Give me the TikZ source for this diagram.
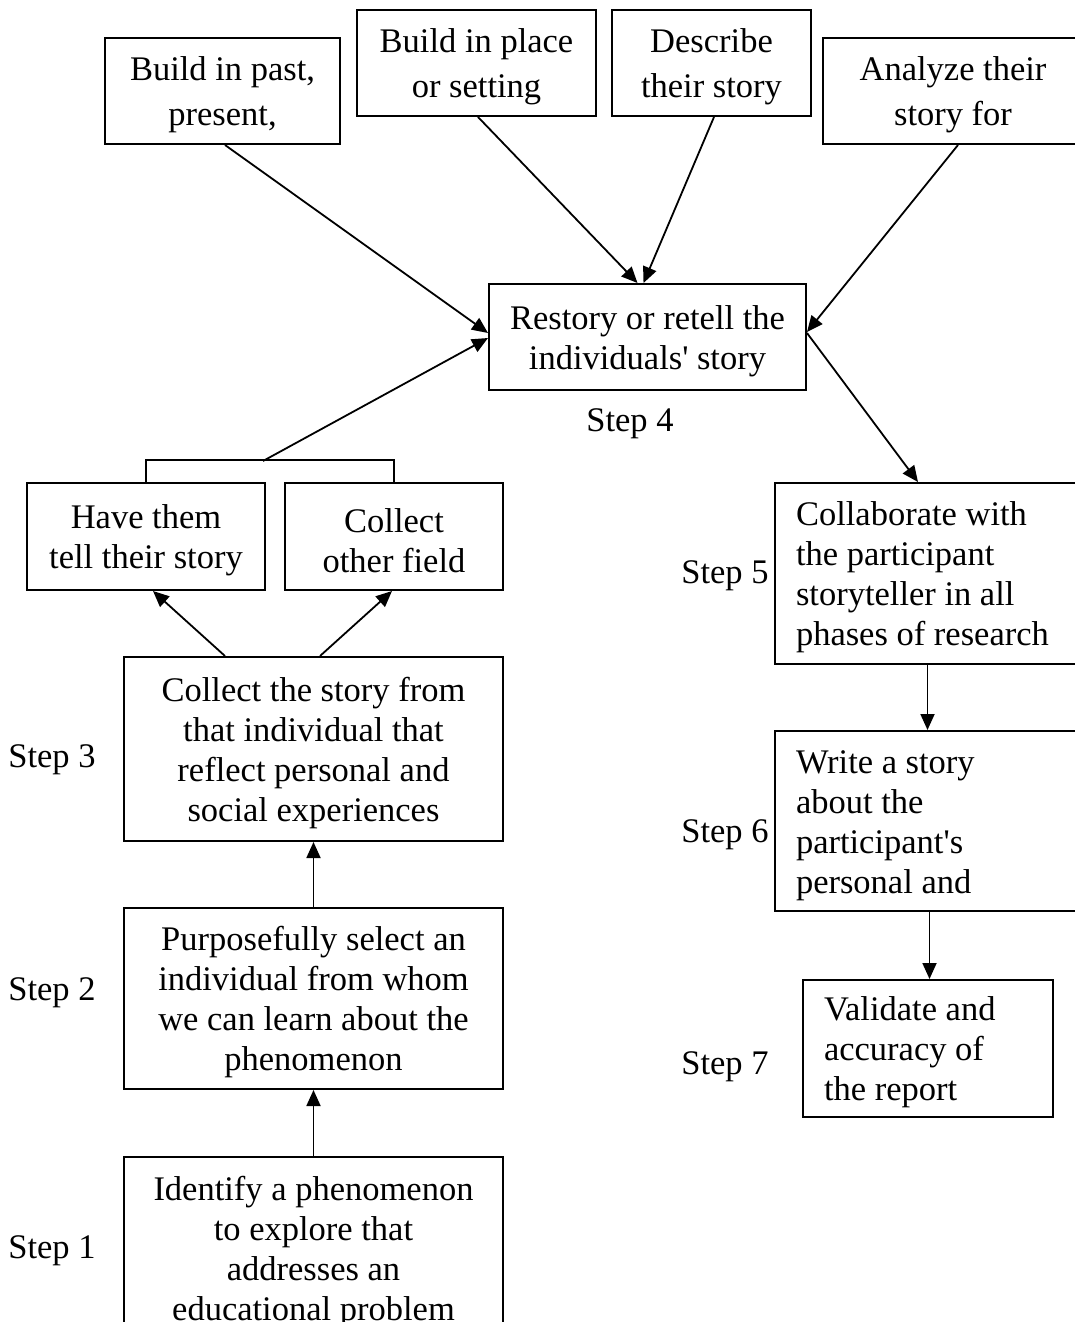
\documentclass[tikz,border=0pt]{standalone}
\usepackage{fontspec}
\setmainfont{Liberation Serif}
\usetikzlibrary{arrows.meta}
\newcommand{\tallstrut}{\rule{0pt}{32pt}}
\tikzset{
  txt/.style={font=\fontsize{34.5pt}{40pt}\selectfont},
  wide/.style={font=\fontsize{34.5pt}{45pt}\selectfont},
  box/.style={txt, draw, line width=2pt, inner sep=0pt, align=center},
  lbox/.style={txt, draw, line width=2pt, inner xsep=21pt, inner ysep=0pt, align=flush left},
  lbl/.style={txt, inner sep=0pt},
  arr/.style={line width=1.8pt, -{Triangle[length=16pt,width=14pt]}},
  link/.style={line width=1.8pt},
}
\begin{document}
\begin{tikzpicture}[x=1pt,y=-1pt]
\useasboundingbox (0,0) rectangle (1075,1322);
\fill[white] (0,0) rectangle (1075,1322);

% top row
\node[box, wide, minimum width=235pt, minimum height=106pt] (past) at (222.5,91) {\tallstrut Build in past,\\present,};
\node[box, wide, minimum width=239pt, minimum height=106pt] (place) at (476.5,63) {\tallstrut Build in place\\or setting};
\node[box, wide, minimum width=199pt, minimum height=106pt] (desc) at (711.5,63) {\tallstrut Describe\\their story};
\node[box, wide, minimum width=260pt, minimum height=106pt] (anal) at (953,91) {\tallstrut Analyze their\\story for};

% step 4
\node[box, minimum width=317pt, minimum height=106pt] (restory) at (647.5,337) {\tallstrut Restory or retell the\\individuals\textquotesingle\ story};
\node[lbl] (s4) at (630,424) {Step 4};

% left column
\node[box, minimum width=238pt, minimum height=107pt] (have) at (146,536.5) {\tallstrut Have them\\tell their story};
\node[box, minimum width=218pt, minimum height=107pt] (other) at (394,536.5) {\tallstrut Collect\\other field};
\node[box, minimum width=379pt, minimum height=184pt] (collect) at (313.5,749) {\tallstrut Collect the story from\\that individual that\\reflect personal and\\social experiences};
\node[box, minimum width=379pt, minimum height=181pt] (purp) at (313.5,998.5) {\tallstrut Purposefully select an\\individual from whom\\we can learn about the\\phenomenon};
\node[box, minimum width=379pt, minimum height=182pt] (ident) at (313.5,1248) {\tallstrut Identify a phenomenon\\to explore that\\addresses an\\educational problem};
\node[lbl] (s3) at (52,760) {Step 3};
\node[lbl] (s2) at (52,993) {Step 2};
\node[lbl] (s1) at (52,1251) {Step 1};

% right column
\node[lbox, text width=263pt, minimum height=181pt] (collab) at (927.5,573.5) {\tallstrut Collaborate with\\the participant\\storyteller in all\\phases of research};
\node[lbox, text width=263pt, minimum height=180pt] (write) at (927.5,821) {\tallstrut Write a story\\about the\\participant\textquotesingle s\\personal and};
\node[lbox, text width=208pt, minimum height=137pt] (valid) at (928,1048.5) {\tallstrut Validate and\\accuracy of\\the report};
\node[lbl] (s5) at (725,576) {Step 5};
\node[lbl] (s6) at (725,835) {Step 6};
\node[lbl] (s7) at (725,1067) {Step 7};

% connectors into restory
\draw[arr] ([xshift=2.5pt]past.south) -- ([yshift=4pt]restory.west);
\draw[arr] ([xshift=1.5pt]place.south) -- ([xshift=-10pt]restory.north);
\draw[arr] ([xshift=2.5pt]desc.south) -- ([xshift=-4pt]restory.north);
\draw[arr] ([xshift=5pt]anal.south) -- ([yshift=5pt]restory.east);

% bracket
\draw[link] (have.north) -- ++(0,-22) -| (other.north);
\coordinate (brk) at (263,461);
\draw[arr] (brk) -- ([yshift=-1pt]restory.west);

% restory to collaborate
\draw[arr] ([yshift=4pt]restory.east) -- ([xshift=-9.5pt]collab.north);

% left column arrows
\draw[arr] ([xshift=-88.5pt]collect.north) -- ([xshift=7pt]have.south);
\draw[arr] ([xshift=6.5pt]collect.north) -- ([xshift=-2pt]other.south);
\draw[arr] (purp.north) -- (collect.south);
\draw[arr] (ident.north) -- (purp.south);

% right column arrows
\draw[arr] (collab.south) -- (write.north);
\draw[arr] ([xshift=2pt]write.south) -- ([xshift=2pt]write.south |- valid.north);
\end{tikzpicture}
\end{document}
